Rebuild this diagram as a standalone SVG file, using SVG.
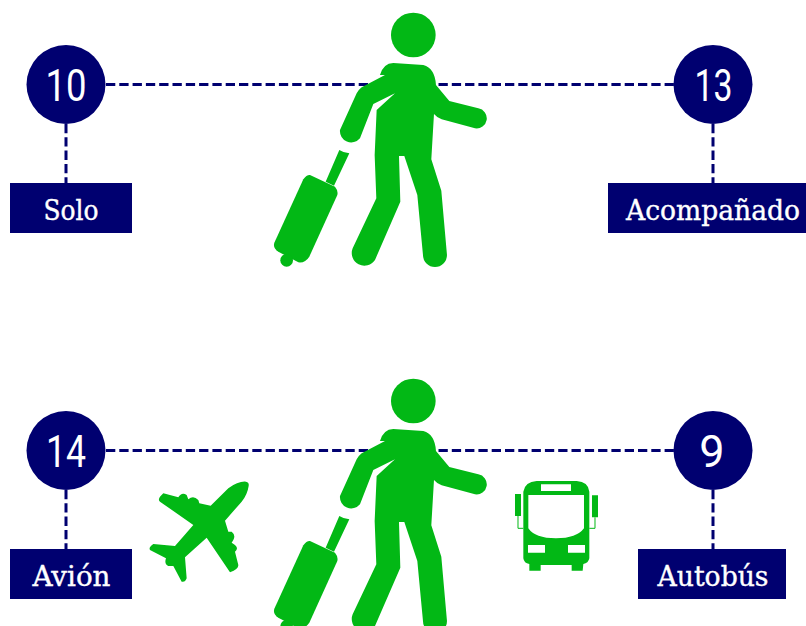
<svg xmlns="http://www.w3.org/2000/svg" width="806" height="626" viewBox="0 0 806 626">
<style>
.c{fill:#000070}
.d{stroke:#000070;stroke-width:3;stroke-dasharray:9.3 4;fill:none}
.g{fill:#02b815}
.n{fill:#fff;font-family:"Roboto",sans-serif;font-size:45px;font-weight:400;text-anchor:middle}
.l{fill:#fff;stroke:#fff;stroke-width:.35;font-family:"DejaVu Serif Condensed","DejaVu Serif",serif;font-size:28px;font-stretch:condensed;text-anchor:middle}
</style>
<defs>
<g id="person" class="g" transform="translate(260 0) scale(.3333)">
<circle cx="460" cy="105" r="67"/>
<path d="M360 225Q370 190 400 189L490 195Q525 205 528 255L568 303L655 325A30 30 0 0 1 645 385L545 358Q530 352 522 342L514 478L544 572L561 765A36 36 0 0 1 489 765L472 585L433 468L417 468L421 605L345 780A38 38 0 0 1 278 745L349 595L344 465L350 330L405 280L340 312L300 415A34 34 0 0 1 240 390L290 280Q295 270 305 262L375 225Z"/>
<path d="M238 450Q252 459 268 460L222 557L197 545Z"/>
<path d="M150 525L225 560Q235 572 232 585L148 770Q135 790 115 787L55 755Q38 745 43 728L130 538Q140 524 150 525Z"/>
<circle cx="80" cy="781" r="19"/>
</g>
</defs>
<g id="connectors">
<path class="d" d="M106 84.5H674M66 124V183M713 124V183M106 450.5H674M66 490V549M713 490V549"/>
</g>
<g id="person-top"><use href="#person"/></g>
<g id="person-bottom"><use href="#person" y="366"/></g>
<g id="node-10"><circle class="c" cx="66" cy="84.5" r="39.5"/><text class="n" x="66" y="101" textLength="41" lengthAdjust="spacingAndGlyphs">10</text></g>
<g id="node-13"><circle class="c" cx="713" cy="84.5" r="39.5"/><text class="n" x="713.500" y="101" textLength="38" lengthAdjust="spacingAndGlyphs">13</text></g>
<g id="node-14"><circle class="c" cx="66" cy="450.5" r="39.5"/><text class="n" x="66" y="467" textLength="40" lengthAdjust="spacingAndGlyphs">14</text></g>
<g id="node-9"><circle class="c" cx="713" cy="450.5" r="39.5"/><text class="n" x="712" y="467">9</text></g>
<g id="label-solo"><rect class="c" x="10" y="183" width="122" height="50"/><text class="l" x="71" y="220" textLength="55" lengthAdjust="spacingAndGlyphs">Solo</text></g>
<g id="label-acompanado"><rect class="c" x="608" y="183" width="198" height="50"/><text class="l" x="713" y="220" textLength="174" lengthAdjust="spacingAndGlyphs">Acompañado</text></g>
<g id="label-avion"><rect class="c" x="10" y="549" width="122" height="50"/><text class="l" x="71.500" y="586" textLength="78" lengthAdjust="spacingAndGlyphs">Avión</text></g>
<g id="label-autobus"><rect class="c" x="638" y="549" width="148" height="50"/><text class="l" x="713" y="586" textLength="111" lengthAdjust="spacingAndGlyphs">Autobús</text></g>
<g id="plane" transform="translate(140 470) scale(.3333)">
<path class="g" d="M326 48Q322 75 305 95L255 152L265 185L275 185Q288 195 280 210L275 218L285 225Q297 235 285 245L295 285Q296 298 270 307L200 203L135 262L140 325Q135 338 125 335L100 288L85 288Q72 282 78 265L30 240Q25 232 40 222L105 228L160 165L60 95Q50 88 70 70L115 82Q125 65 140 75L145 88Q160 75 175 90L178 100L212 107L265 55Q295 33 318 35Q328 37 326 48Z"/>
</g>
<g id="bus" transform="translate(500 470) scale(.3333)">
<path class="g" fill-rule="evenodd" d="M70 65Q75 35 110 33L230 33Q265 35 268 65L268 265Q265 280 250 282L248 302L215 302L215 285L122 285L122 302L88 302L88 282Q72 280 70 265ZM85 75L252 75L252 175Q230 205 168 205Q105 205 85 175ZM123 43V63H213V43ZM84 225V248H135V225ZM204 225V248H255V225Z"/>
<path class="g" d="M45 72H63V138H45ZM276 76H294V142H276Z"/>
<path d="M54 138V175H70M285 142V175H268" fill="none" stroke="#02b815" stroke-width="3"/>
</g>
</svg>
